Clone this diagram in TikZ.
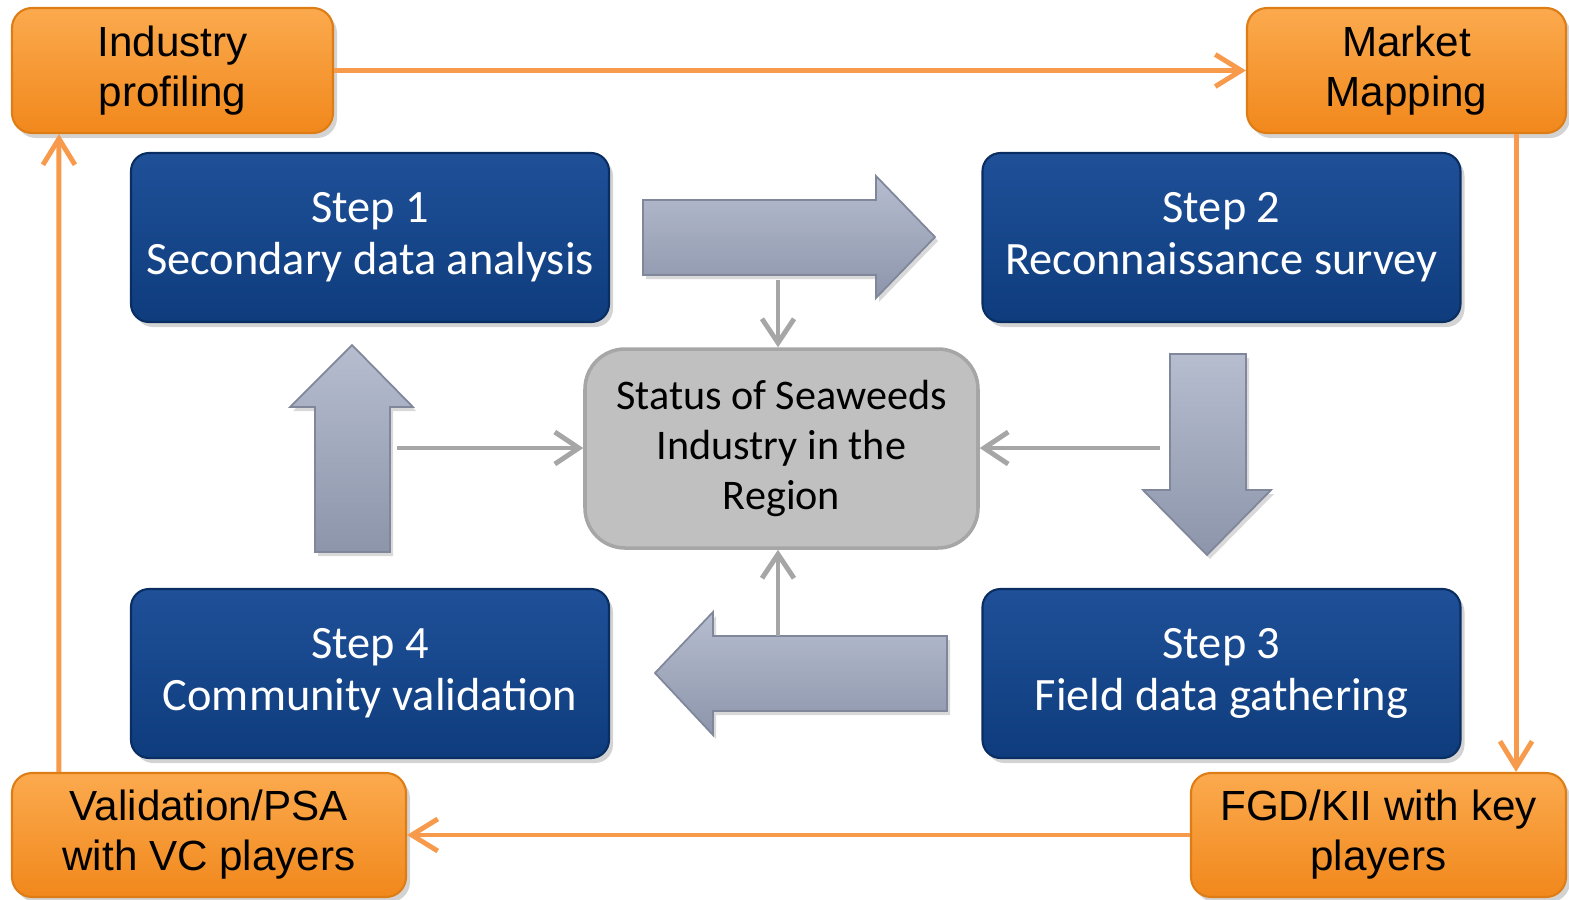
\documentclass[tikz,border=0pt]{standalone}
\usepackage{fontspec}
\setmainfont{Carlito}
\newfontfamily\arialfont{Liberation Sans}
\usetikzlibrary{arrows.meta,shadows}

\definecolor{orangetop}{RGB}{251,170,78}
\definecolor{orangebot}{RGB}{241,136,28}
\definecolor{orangeline}{RGB}{222,124,22}
\definecolor{orangelink}{RGB}{247,154,76}
\definecolor{bluetop}{RGB}{31,80,152}
\definecolor{bluebot}{RGB}{14,60,125}
\definecolor{blueline}{RGB}{10,46,98}
\definecolor{statusfill}{RGB}{192,192,192}
\definecolor{statusline}{RGB}{166,166,166}
\definecolor{thinlink}{RGB}{166,166,166}
\definecolor{blocktop}{RGB}{182,189,207}
\definecolor{blockbot}{RGB}{141,149,171}
\definecolor{blockline}{RGB}{128,135,155}

\begin{document}
\begin{tikzpicture}
	[
	align=center,
	task/.style={draw=orangeline, line width=0.6pt, top color=orangetop, bottom color=orangebot, rounded corners=0.2cm, inner sep=0pt, font=\arialfont\fontsize{12}{14.2}\selectfont, drop shadow={opacity=0.35, shadow xshift=0.04cm, shadow yshift=-0.05cm}},
	stepbox/.style={draw=blueline, line width=0.6pt, top color=bluetop, bottom color=bluebot, rounded corners=0.18cm, inner sep=0pt, minimum width=4.78cm, minimum height=1.69cm, text=white, font=\fontsize{13.2}{14.8}\selectfont, drop shadow={opacity=0.35, shadow xshift=0.04cm, shadow yshift=-0.05cm}},
	status/.style={draw=statusline, line width=1pt, fill=statusfill, rounded corners=0.4cm, inner sep=0pt, minimum width=3.93cm, minimum height=1.99cm, font=\fontsize{12}{14.2}\selectfont},
	block/.style={draw=blockline, line width=0.5pt, top color=blocktop, bottom color=blockbot, drop shadow={opacity=0.3, shadow xshift=0.03cm, shadow yshift=-0.04cm}},
	orangelink/.style={draw=orangelink, line width=1.4pt, -{Straight Barb[length=2.6mm, width=3.2mm, line width=1.4pt]}},
	thinlink/.style={draw=thinlink, line width=1.4pt, -{Straight Barb[length=2.4mm, width=3.2mm, line width=1.4pt]}},
	]
		\useasboundingbox (0,0) rectangle (15.69,-9.00);
		
		% outer tasks
		\node[task, minimum width=3.21cm, minimum height=1.25cm] (profiling) at 	( 1.725, -0.705) {Industry\\profiling};
		\node[task, minimum width=3.19cm, minimum height=1.25cm] (mapping) at 	(14.065, -0.705) {Market\\Mapping};
		\node[task, minimum width=3.75cm, minimum height=1.24cm] (fgd) at 		(13.785, -8.35 ) {FGD/KII with key\\players};
		\node[task, minimum width=3.94cm, minimum height=1.24cm] (validation) at 	( 2.09 , -8.35 ) {Validation/PSA\\with VC players};
		
		% steps
		\node[stepbox] (step1) at 	( 3.70 , -2.375) {Step 1\\Secondary data analysis};
		\node[stepbox] (step2) at 	(12.215, -2.375) {Step 2\\Reconnaissance survey};
		\node[stepbox] (step3) at 	(12.215, -6.735) {Step 3\\Field data gathering};
		\node[stepbox] (step4) at 	( 3.70 , -6.735) {Step 4\\Community validation};
		
		% centre
		\node[status] (region) at 	( 7.815, -4.485) {Status of Seaweeds\\Industry in the\\Region};
		
		% block arrows
		\draw[block] (6.43,-2.00) -- (8.76,-2.00) -- (8.76,-1.76) -- (9.35,-2.37) -- (8.76,-2.98) -- (8.76,-2.75) -- (6.43,-2.75) -- cycle;
		\draw[block] (11.70,-3.54) -- (12.46,-3.54) -- (12.46,-4.90) -- (12.71,-4.90) -- (12.07,-5.55) -- (11.43,-4.90) -- (11.70,-4.90) -- cycle;
		\draw[block] (9.47,-6.36) -- (7.13,-6.36) -- (7.13,-6.12) -- (6.55,-6.73) -- (7.13,-7.35) -- (7.13,-7.11) -- (9.47,-7.11) -- cycle;
		\draw[block] (3.15,-5.52) -- (3.15,-4.07) -- (2.90,-4.07) -- (3.52,-3.45) -- (4.13,-4.07) -- (3.90,-4.07) -- (3.90,-5.52) -- cycle;
		
		\coordinate (fromright) at 	( 7.78, -2.80);
		\coordinate (fromdown) at 	(11.60, -4.48);
		\coordinate (fromleft) at 	( 7.78, -6.36);
		\coordinate (fromup) at 	( 3.97, -4.48);
		
		\draw[thinlink] (fromright) -- (fromright |- region.north);
		\draw[thinlink] (fromdown) -- (fromdown -| region.east);
		\draw[thinlink] (fromleft) -- (fromleft |- region.south);
		\draw[thinlink] (fromup) -- (fromup -| region.west);
		
		% outer loop
		\draw[orangelink] (profiling.east) -- (mapping.west);
		\draw[orangelink] ([xshift=-0.51cm]mapping.south east) -- ([xshift=-0.51cm]fgd.north east);
		\draw[orangelink] (fgd.west) -- (validation.east);
		\draw[orangelink] ([xshift=0.48cm]validation.north west) -- ([xshift=0.48cm]profiling.south west);
		
	\end{tikzpicture}
\end{document}
